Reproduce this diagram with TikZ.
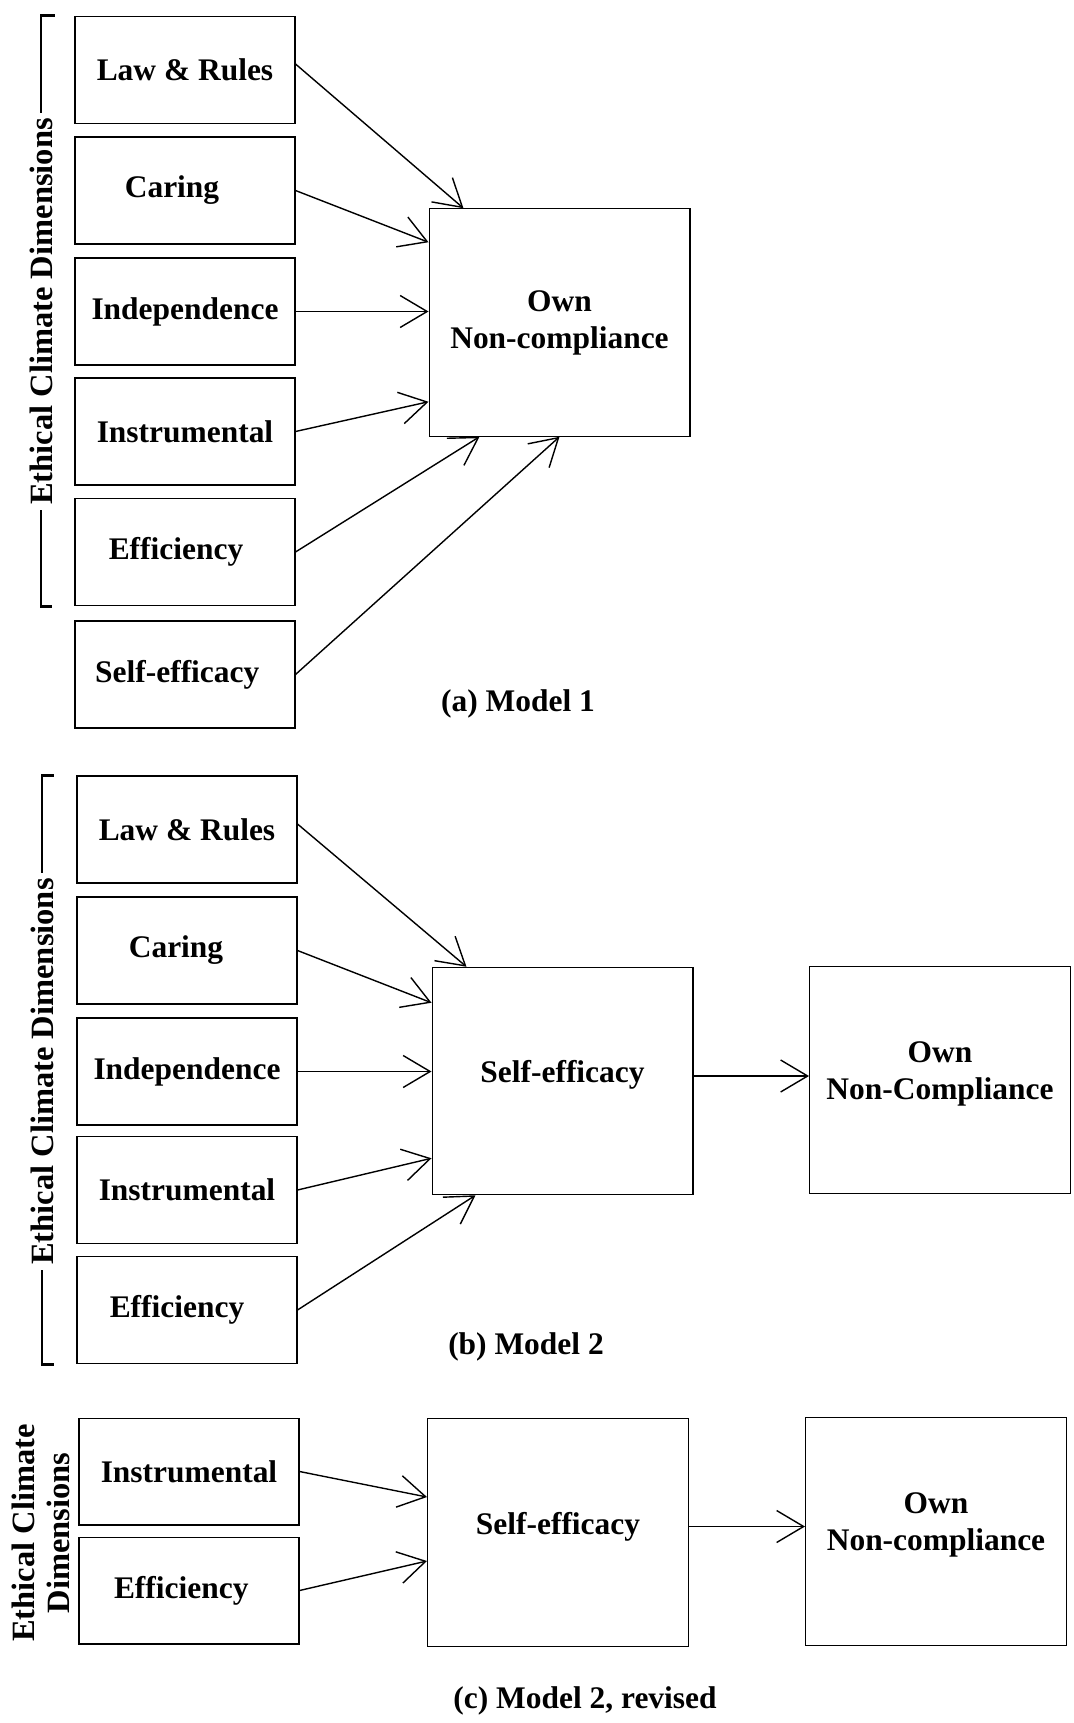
\documentclass[tikz,border=0pt]{standalone}
\usepackage{fontspec}
\setmainfont{Liberation Serif}
\usepackage{xcolor}
\usepackage{tikz}
\usetikzlibrary{arrows.meta, calc}
\tikzstyle{factor} = [
    rectangle,
    minimum width=4.4cm,
    minimum height=2.14cm,
    inner sep=0pt,
    text centered,
    draw=black,
    line width=0.6pt,
    font=\fontsize{17.9}{21}\selectfont\bfseries
]
\tikzstyle{outcome} = [
    factor,
    minimum width=5.22cm,
    minimum height=4.55cm,
    align=center
]
\tikzstyle{raised} = [text depth=0.38cm]
\tikzstyle{arrow} = [
    line width=0.8pt,
    -{Straight Barb[length=0.54cm, width=0.64cm]},
    color=black
]
\tikzstyle{bracket} = [line width=1.7pt]
\tikzstyle{dimlabel} = [
    rotate=90,
    inner sep=3pt,
    align=center,
    font=\fontsize{18.5}{19.5}\selectfont\bfseries
]
\tikzstyle{caption} = [font=\fontsize{17.9}{21}\selectfont\bfseries]
\begin{document}
\begin{tikzpicture}[x=0.02cm, y=-0.02cm]
        \useasboundingbox (0,0) rectangle (1073,1723);
        % Model 1
        \node[factor] (lawA) at (185,70) {Law \& Rules};
        \node[factor] (caringA) at (185,190.5) {Caring\hspace*{0.52cm}};
        \node[factor] (indepA) at (185,311.5) {Independence};
        \node[factor] (instrA) at (185,431.5) {Instrumental};
        \node[factor] (effA) at (185,552) {Efficiency\hspace*{0.36cm}};
        \node[factor] (selfA) at (185,674.5) {Self-efficacy\hspace*{0.31cm}};
        \node[outcome] (ownA) at (559.5,322.5) {Own\\Non-compliance};
        \node[dimlabel] (ecdA) at (41,311.5) {Ethical Climate Dimensions};
        \node[caption] (capA) at (518,704) {(a) Model 1};

        \draw[arrow] ([yshift=0.12cm]lawA.east) -- ([xshift=0.7cm]ownA.north west);
        \draw[arrow] (caringA.east) -- ([yshift=-0.68cm]ownA.north west);
        \draw[arrow] (indepA.east) -- (indepA.east -| ownA.west);
        \draw[arrow] (instrA.east) -- ([yshift=0.7cm]ownA.south west);
        \draw[arrow] (effA.east) -- ([xshift=1.02cm]ownA.south west);
        \draw[arrow] (selfA.east) -- (ownA.south);
        \draw[bracket] (ecdA.east) -- (ecdA.east |- lawA.north) -- ++(14,0);
        \draw[bracket] (ecdA.west) -- (ecdA.west |- effA.south) -- ++(11,0);

        % Model 2
        \node[factor] (lawB) at (187,829.5) {Law \& Rules};
        \node[factor] (caringB) at (187,950.5) {Caring\hspace*{0.44cm}};
        \node[factor] (indepB) at (187,1071.5) {Independence};
        \node[factor] (instrB) at (187,1190) {Instrumental};
        \node[factor] (effB) at (187,1310) {Efficiency\hspace*{0.4cm}};
        \node[outcome, raised] (selfB) at (562.5,1081) {Self-efficacy};
        \node[outcome, raised] (ownB) at (940,1080) {Own\\Non-Compliance};
        \node[dimlabel] (ecdB) at (42,1071.5) {Ethical Climate Dimensions};
        \node[caption] (capB) at (526,1347) {(b) Model 2};

        \draw[arrow] ([yshift=0.11cm]lawB.east) -- ([xshift=0.7cm]selfB.north west);
        \draw[arrow] (caringB.east) -- ([yshift=-0.72cm]selfB.north west);
        \draw[arrow] (indepB.east) -- (indepB.east -| selfB.west);
        \draw[arrow] (instrB.east) -- ([yshift=0.74cm]selfB.south west);
        \draw[arrow] (effB.east) -- ([xshift=0.88cm]selfB.south west);
        \draw[arrow] ([yshift=0.1cm]selfB.east) -- ([yshift=0.1cm]selfB.east -| ownB.west);
        \draw[bracket] (ecdB.east) -- (ecdB.east |- lawB.north) -- ++(12,0);
        \draw[bracket] (ecdB.west) -- (ecdB.west |- effB.south) -- ++(12,0);

        % Model 2, revised
        \node[factor] (instrC) at (189,1471.5) {Instrumental};
        \node[factor] (effC) at (189,1590.5) {Efficiency\hspace*{0.31cm}};
        \node[outcome, raised] (selfC) at (558,1532.5) {Self-efficacy};
        \node[outcome, raised] (ownC) at (936,1531.5) {Own\\Non-compliance};
        \node[dimlabel] (ecdC) at (41,1533) {Ethical Climate\\Dimensions};
        \node[caption] (capC) at (585,1701) {(c) Model 2, revised};

        \draw[arrow] (instrC.east) -- ([yshift=0.71cm]selfC.west);
        \draw[arrow] (effC.east) -- ([yshift=-0.57cm]selfC.west);
        \draw[arrow] ([yshift=0.12cm]selfC.east) -- ([yshift=0.12cm]selfC.east -| ownC.west);
    \end{tikzpicture}
\end{document}
